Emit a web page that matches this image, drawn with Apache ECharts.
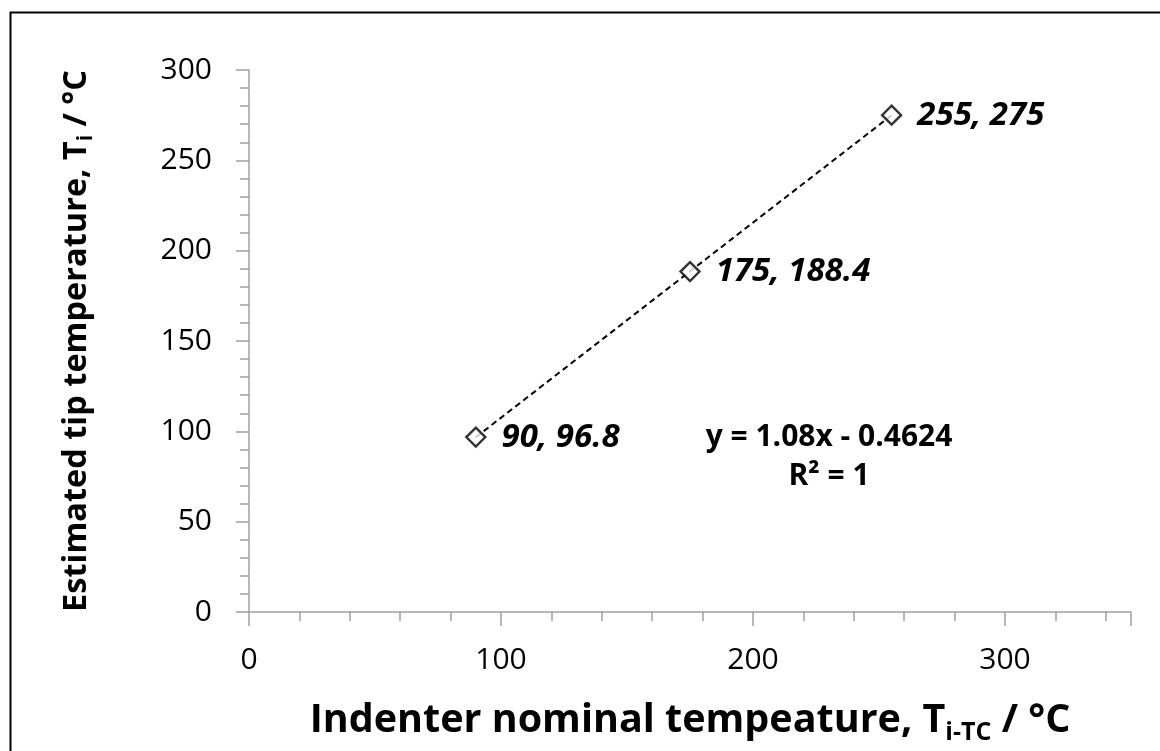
<!DOCTYPE html>
<html><head><meta charset="utf-8">
<script src="https://cdn.jsdelivr.net/npm/echarts@6/dist/echarts.min.js"></script>
<style>html,body{margin:0;padding:0;background:#fff}#c{width:1160px;height:751px}</style>
</head><body><div id="c"></div>
<script>
const xValues = [90, 175, 255];
const yValues = [96.8, 188.4, 275];
const pointLabels = ['90, 96.8', '175, 188.4', '255, 275'];
const trendX = [90, 255];
const trendY = [96.74, 274.94];
const equationText = ['y = 1.08x - 0.4624', 'R² = 1'];
const xTicks = [0, 100, 200, 300];
const yTicks = [0, 50, 100, 150, 200, 250, 300];

const FONT = '"Open Sans", "Noto Sans", sans-serif';
const chart = echarts.init(document.getElementById('c'));
const axisGray = '#a0a0a0';
chart.setOption({
  animation: false,
  backgroundColor: '#fff',
  grid: {left: 249, right: 29, top: 70, bottom: 139},
  xAxis: {
    type: 'value', min: 0, max: 350, interval: 100,
    splitLine: {show: false},
    axisLine: {show: true, onZero: false, lineStyle: {color: axisGray, width: 1.5}},
    axisTick: {show: true, length: 14, lineStyle: {color: axisGray, width: 1.5}},
    minorTick: {show: true, splitNumber: 5, length: 9, lineStyle: {color: axisGray, width: 1.5}},
    axisLabel: {color: '#000', fontSize: 30, fontFamily: FONT, margin: 33,
      formatter: v => xTicks.includes(v) ? String(v) : ''},
    name: '{a|Indenter nominal tempeature, T}{s|i-TC}{a| / °C}',
    nameLocation: 'middle', nameGap: 85,
    nameTextStyle: {rich: {
      a: {fontSize: 39.5, fontWeight: 'bold', fontFamily: FONT, color: '#000'},
      s: {fontSize: 25, fontWeight: 'bold', fontFamily: FONT, color: '#000', padding: [23, 0, 0, 0]}
    }}
  },
  yAxis: {
    type: 'value', min: 0, max: 300, interval: 50,
    splitLine: {show: false},
    axisLine: {show: true, lineStyle: {color: axisGray, width: 1.5}},
    axisTick: {show: true, length: 13, lineStyle: {color: axisGray, width: 1.5}},
    minorTick: {show: true, splitNumber: 5, length: 9, lineStyle: {color: axisGray, width: 1.5}},
    axisLabel: {color: '#000', fontSize: 30, fontFamily: FONT, margin: 37,
      formatter: v => yTicks.includes(v) ? String(v) : ''},
    name: '{a|Estimated tip temperature, T}{s|i}{a| / °C}',
    nameLocation: 'middle', nameGap: 152,
    nameTextStyle: {rich: {
      a: {fontSize: 32.5, fontWeight: 'bold', fontFamily: FONT, color: '#000'},
      s: {fontSize: 21, fontWeight: 'bold', fontFamily: FONT, color: '#000', padding: [19, 0, 0, 0]}
    }}
  },
  series: [
    {
      type: 'line',
      data: trendX.map((x, i) => [x, trendY[i]]),
      symbol: 'none',
      lineStyle: {color: '#000', width: 2, type: [6, 4]},
      silent: true, z: 1
    },
    {
      type: 'scatter',
      data: xValues.map((x, i) => [x, yValues[i]]),
      symbol: 'diamond', symbolSize: 19,
      itemStyle: {color: '#fff', borderColor: '#000', borderWidth: 2.4},
      label: {
        show: true, position: 'right', distance: 15,
        formatter: p => '{t|' + pointLabels[p.dataIndex] + '}',
        rich: {t: {fontSize: 33, fontWeight: 'bold', fontStyle: 'italic', fontFamily: FONT, color: '#000000', opacity: 1}},
        color: '#000000', opacity: 1, textBorderWidth: 0
      },
      z: 3
    }
  ],
  graphic: [
    {type: 'rect', left: 8, top: 10, shape: {width: 1200, height: 800},
     style: {fill: 'none', stroke: '#000', lineWidth: 2}, silent: true, z: -1},
    {type: 'text', x: 829, y: 437, style: {text: equationText[0], fontSize: 30, fontWeight: 'bold',
      fontFamily: FONT, fill: '#000', align: 'center', verticalAlign: 'middle'}},
    {type: 'text', x: 829, y: 476, style: {text: equationText[1], fontSize: 30, fontWeight: 'bold',
      fontFamily: FONT, fill: '#000', align: 'center', verticalAlign: 'middle'}}
  ]
});
</script></body></html>
